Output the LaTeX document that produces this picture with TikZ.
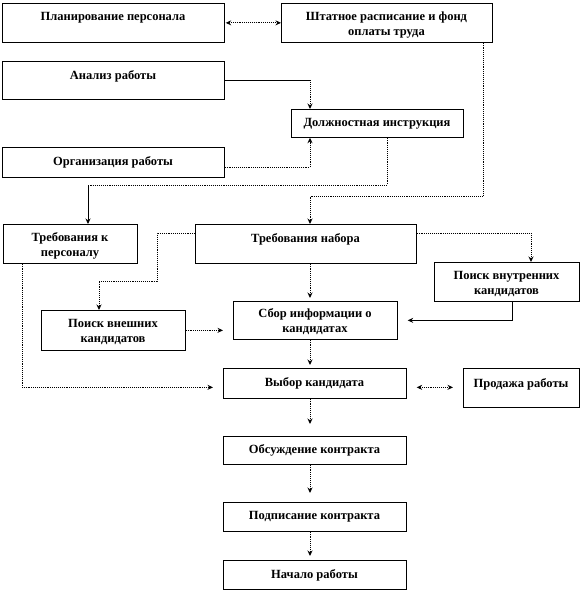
\documentclass[tikz,border=0pt]{standalone}
\usepackage{fontspec}
\setmainfont{Liberation Serif}
\usetikzlibrary{arrows.meta}
\begin{document}
\begin{tikzpicture}[x=1pt,y=-1pt,
  box/.style={draw=black, line width=0.7pt, fill=white, rectangle, inner sep=0pt, anchor=north west},
  lbl/.style={font=\fontsize{12.5}{15}\selectfont\bfseries, align=center, inner sep=0pt, anchor=center},
  tip/.style={-{Stealth[length=5.5pt,width=5pt]}},
  dline/.style={line width=0.9pt, densely dotted},
  sline/.style={line width=0.7pt},
  conn/.style={dline, tip},
  sconn/.style={sline, tip},
  dconn/.style={dline, {Stealth[length=5.5pt,width=5pt]}-{Stealth[length=5.5pt,width=5pt]}}
]
\useasboundingbox (0,0) rectangle (582,592);

% boxes
\node[box, minimum width=222pt, minimum height=39pt] (plan)   at (2,3) {};
\node[box, minimum width=211pt, minimum height=39pt] (shtat)  at (281,3) {};
\node[box, minimum width=222pt, minimum height=38pt] (anal)   at (2,61) {};
\node[box, minimum width=172pt, minimum height=28pt] (dolzh)  at (291,109) {};
\node[box, minimum width=222pt, minimum height=30pt] (org)    at (2,147) {};
\node[box, minimum width=134pt, minimum height=39pt] (treb)   at (3,224) {};
\node[box, minimum width=221pt, minimum height=39pt] (nabor)  at (195,224) {};
\node[box, minimum width=145pt, minimum height=39pt] (vnutr)  at (434,262) {};
\node[box, minimum width=144pt, minimum height=40pt] (vnesh)  at (41,310) {};
\node[box, minimum width=164pt, minimum height=38pt] (sbor)   at (233,301) {};
\node[box, minimum width=183pt, minimum height=30pt] (vybor)  at (223,368) {};
\node[box, minimum width=116pt, minimum height=39pt] (prod)   at (463,368) {};
\node[box, minimum width=183pt, minimum height=28pt] (obsuzh) at (223,436) {};
\node[box, minimum width=183pt, minimum height=29pt] (podp)   at (223,502) {};
\node[box, minimum width=183pt, minimum height=29pt] (nach)   at (223,560) {};

% labels
\node[lbl] (plan-t)   at (113,18)    {Планирование персонала};
\node[lbl] (shtat-t)  at (386.5,25.5){Штатное расписание и фонд\\оплаты труда};
\node[lbl] (anal-t)   at (113,76)    {Анализ работы};
\node[lbl] (dolzh-t)  at (377,124)   {Должностная инструкция};
\node[lbl] (org-t)    at (113,162)   {Организация работы};
\node[lbl] (treb-t)   at (70,245.5)  {Требования к\\персоналу};
\node[lbl] (nabor-t)  at (305.5,239) {Требования набора};
\node[lbl] (vnutr-t)  at (506.5,283.5){Поиск внутренних\\кандидатов};
\node[lbl] (vnesh-t)  at (113,332)   {Поиск внешних\\кандидатов};
\node[lbl] (sbor-t)   at (315,322)   {Сбор информации о\\кандидатах};
\node[lbl] (vybor-t)  at (314.5,383) {Выбор кандидата};
\node[lbl] (prod-t)   at (521,384)   {Продажа работы};
\node[lbl] (obsuzh-t) at (314.5,450) {Обсуждение контракта};
\node[lbl] (podp-t)   at (314.5,517) {Подписание контракта};
\node[lbl] (nach-t)   at (314.5,575) {Начало работы};

% helper coordinates on boxes
\coordinate (dTop) at ([xshift=19pt]dolzh.north west);
\coordinate (dBot) at ([xshift=19pt]dolzh.south west);
\coordinate (dOut) at ([xshift=96pt]dolzh.south west);
\coordinate (tIn)  at ([xshift=85pt]treb.north west);
\coordinate (tOut) at ([xshift=19pt]treb.south west);
\coordinate (sOut) at ([xshift=202pt]shtat.south west);
\coordinate (nIn)  at ([xshift=115pt]nabor.north west);
\coordinate (nOut) at ([xshift=115pt]nabor.south west);
\coordinate (veIn) at ([xshift=58pt]vnesh.north west);
\coordinate (viIn) at ([xshift=97pt]vnutr.north west);
\coordinate (viOut) at ([xshift=78pt]vnutr.south west);
\coordinate (vbOut) at ([xshift=87pt]vybor.south west);
\coordinate (obIn) at ([xshift=87pt]obsuzh.north west);
\coordinate (obOut) at ([xshift=87pt]obsuzh.south west);
\coordinate (pdIn) at ([xshift=87pt]podp.north west);
\coordinate (pdOut) at ([xshift=87pt]podp.south west);
\coordinate (ncIn) at ([xshift=87pt]nach.north west);
\coordinate (j1) at (387,185);
\coordinate (j2) at (483,196);
\coordinate (j3) at (157,281);

% connectors
\draw[dconn, shorten <=1pt] (plan.east) -- (shtat.west);
\draw[sline] (anal.east) -- (anal.east -| dTop);
\draw[conn] (anal.east -| dTop) -- (dTop);
\draw[conn] ([yshift=-5pt]org.east) -| (dBot);
\draw[dline] (dOut) -- (j1) -- (j1 -| tIn);
\draw[sconn] (j1 -| tIn) -- (tIn);
\draw[conn] (sOut) -- (j2) -| (nIn);
\draw[conn] ([yshift=10.5pt]nabor.west) -| (j3) -| (veIn);
\draw[conn] ([yshift=10.5pt]nabor.east) -| (viIn);
\draw[conn, shorten >=3pt] (nOut) -- (nOut |- sbor.north);
\draw[conn, shorten >=10pt] (vnesh.east) -- (vnesh.east -| sbor.west);
\draw[sconn, shorten >=10pt] (viOut) |- (sbor.east);
\draw[conn, shorten >=10pt] (tOut) |- ([yshift=-4pt]vybor.west);
\draw[conn, shorten >=3pt] (nOut |- sbor.south) -- (nOut |- vybor.north);
\draw[dconn, shorten <=10pt, shorten >=10pt] ([yshift=-4pt]vybor.east) -- ([yshift=-4pt]vybor.east -| prod.west);
\draw[conn, shorten >=12pt] (vbOut) -- (obIn);
\draw[conn, shorten >=9pt] (obOut) -- (pdIn);
\draw[conn, shorten >=4pt] (pdOut) -- (ncIn);
\end{tikzpicture}
\end{document}
